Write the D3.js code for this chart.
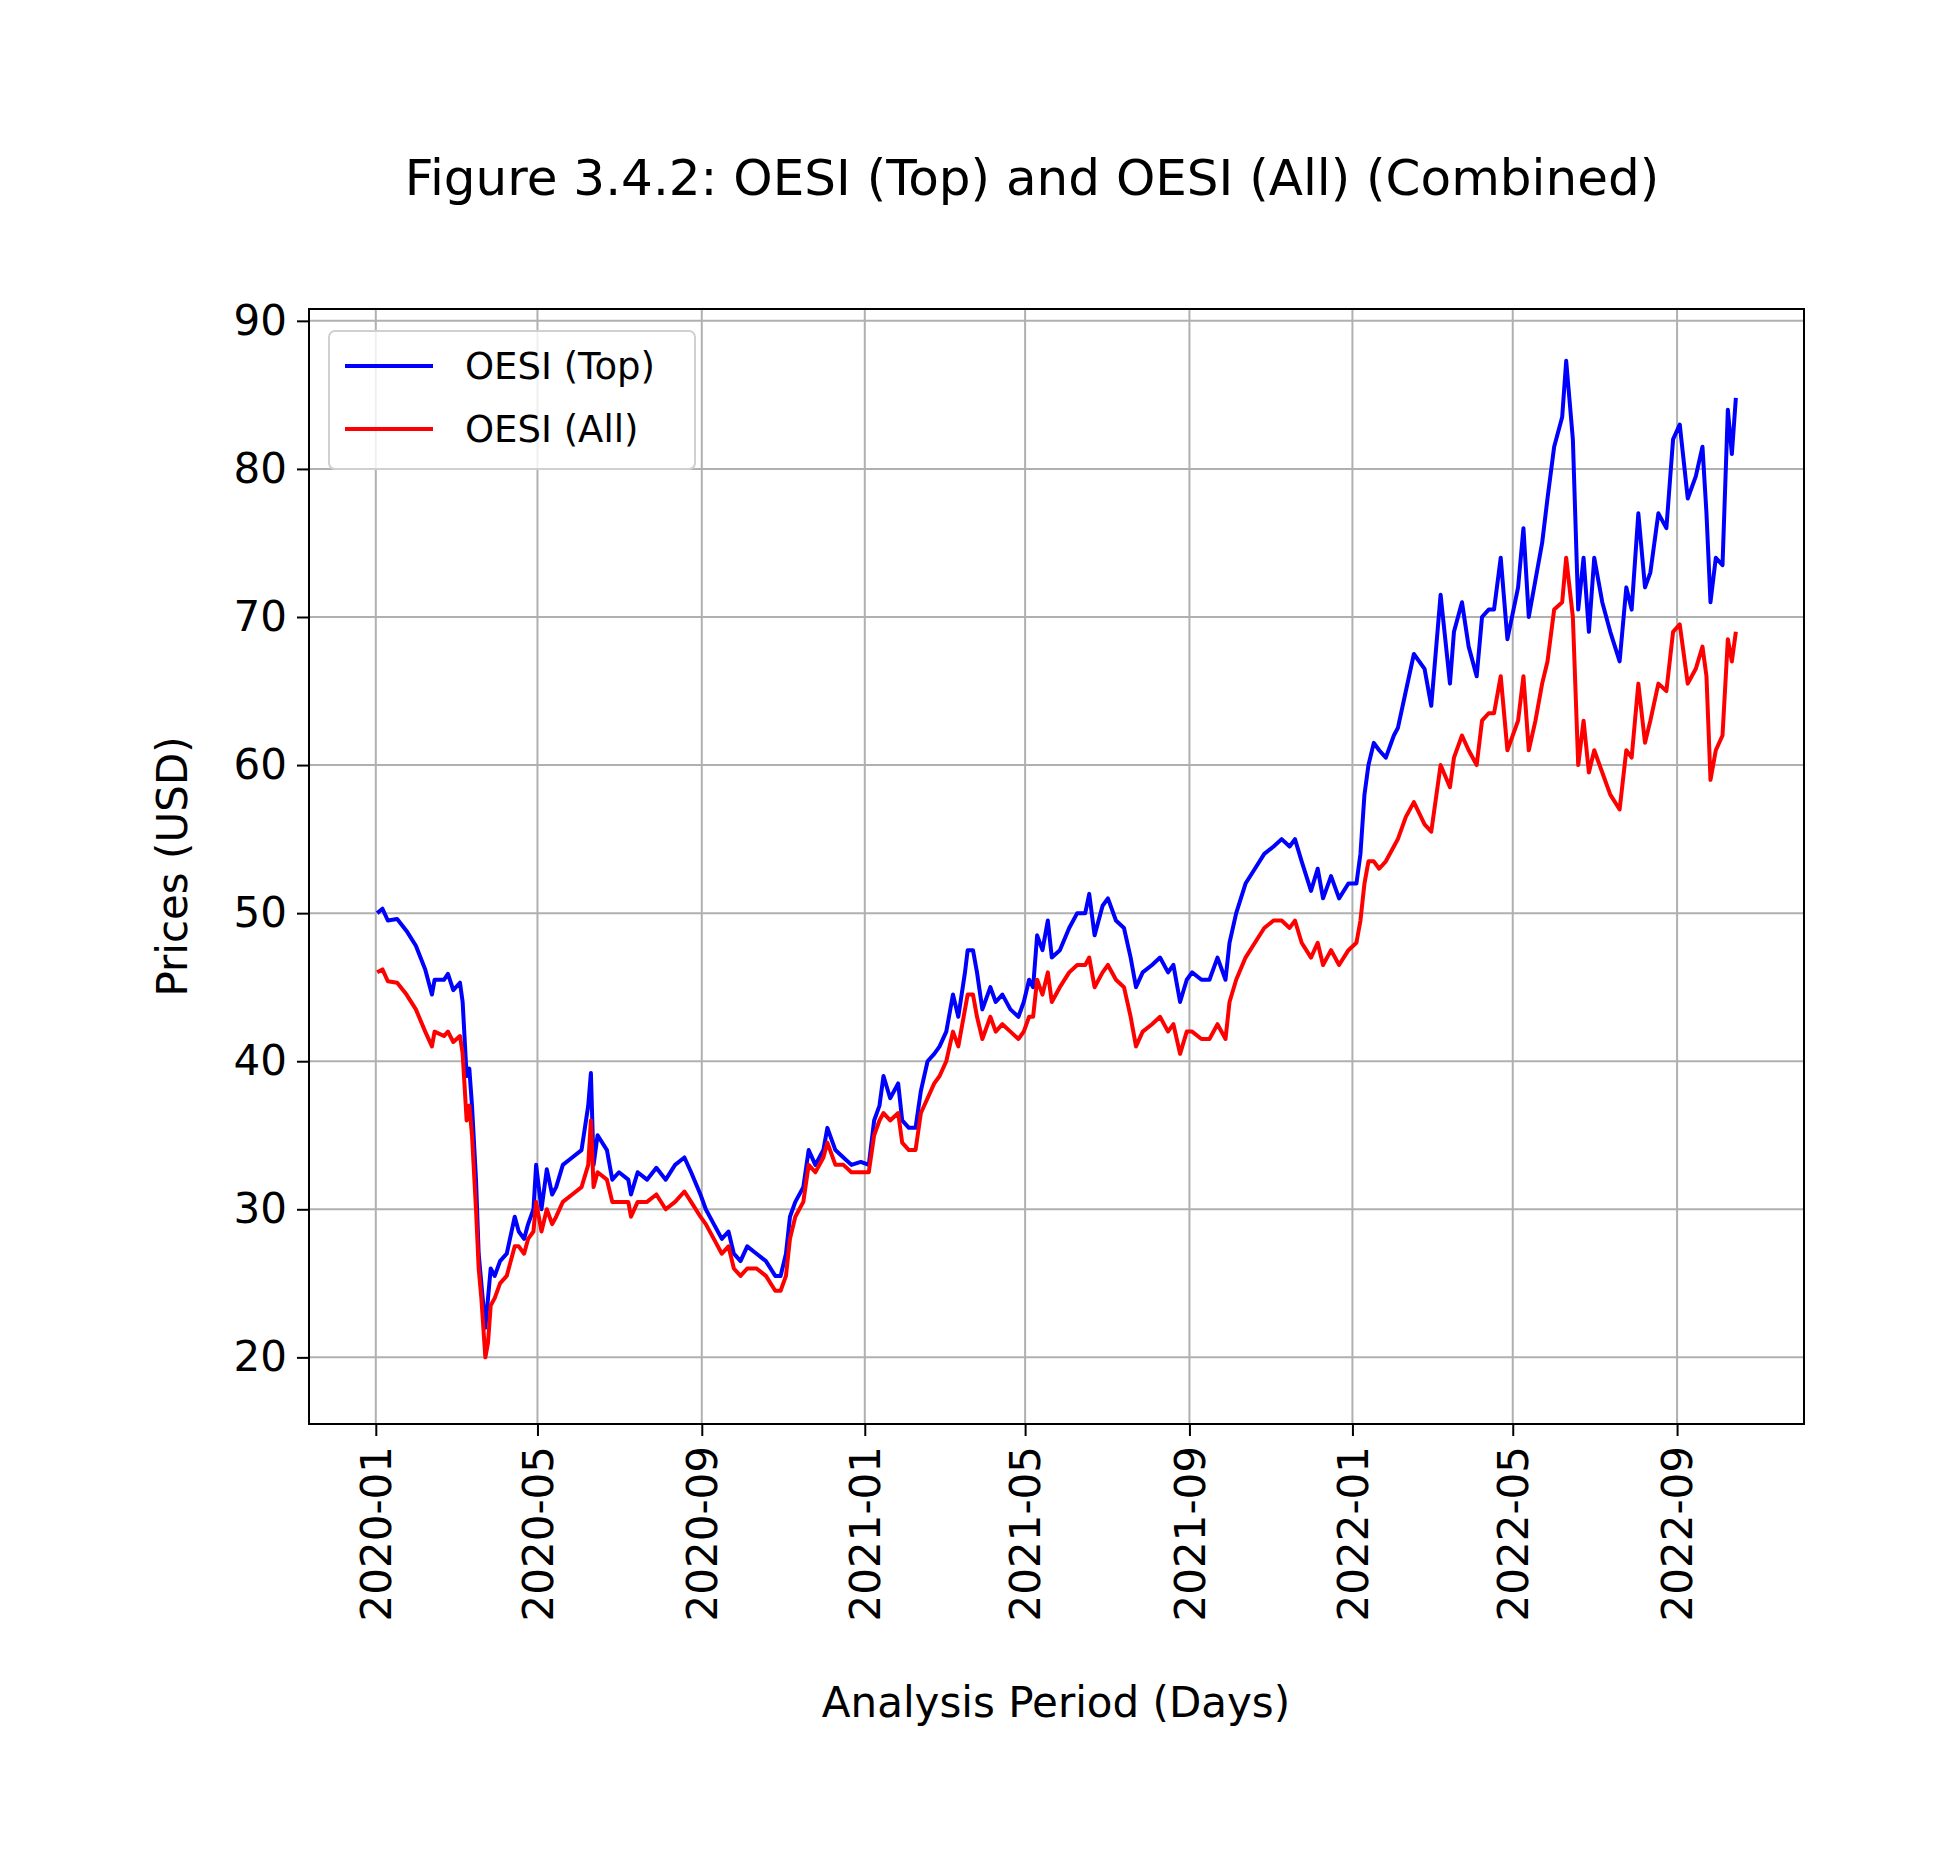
<!DOCTYPE html>
<html><head><meta charset="utf-8">
<script src="https://cdn.jsdelivr.net/npm/d3@7"></script>
<style>body{margin:0;background:#fff}text{font-family:"DejaVu Sans",sans-serif}</style>
</head><body>
<svg id="chart" width="1945" height="1869"></svg>
<script>
// dates, roughly weekly
var dates = ["2020-01-02","2020-01-06","2020-01-10","2020-01-17","2020-01-24","2020-01-31","2020-02-07","2020-02-12","2020-02-14","2020-02-21","2020-02-24","2020-02-28","2020-03-04","2020-03-06","2020-03-09","2020-03-11","2020-03-13","2020-03-16","2020-03-18","2020-03-20","2020-03-23","2020-03-25","2020-03-27","2020-03-30","2020-04-03","2020-04-08","2020-04-14","2020-04-17","2020-04-21","2020-04-24","2020-04-28","2020-04-30","2020-05-04","2020-05-08","2020-05-12","2020-05-15","2020-05-20","2020-05-27","2020-06-03","2020-06-08","2020-06-10","2020-06-12","2020-06-15","2020-06-22","2020-06-26","2020-07-01","2020-07-08","2020-07-10","2020-07-15","2020-07-22","2020-07-29","2020-08-05","2020-08-12","2020-08-19","2020-08-24","2020-08-31","2020-09-04","2020-09-10","2020-09-16","2020-09-21","2020-09-25","2020-09-30","2020-10-05","2020-10-12","2020-10-19","2020-10-26","2020-10-30","2020-11-03","2020-11-06","2020-11-10","2020-11-16","2020-11-20","2020-11-25","2020-12-01","2020-12-04","2020-12-10","2020-12-16","2020-12-22","2020-12-29","2021-01-04","2021-01-08","2021-01-12","2021-01-15","2021-01-20","2021-01-26","2021-01-29","2021-02-03","2021-02-08","2021-02-12","2021-02-17","2021-02-22","2021-02-26","2021-03-03","2021-03-08","2021-03-12","2021-03-17","2021-03-19","2021-03-23","2021-03-26","2021-03-30","2021-04-05","2021-04-09","2021-04-14","2021-04-20","2021-04-26","2021-04-30","2021-05-04","2021-05-07","2021-05-10","2021-05-14","2021-05-18","2021-05-21","2021-05-27","2021-06-03","2021-06-09","2021-06-15","2021-06-18","2021-06-22","2021-06-28","2021-07-02","2021-07-08","2021-07-14","2021-07-19","2021-07-23","2021-07-28","2021-08-04","2021-08-10","2021-08-16","2021-08-20","2021-08-25","2021-08-30","2021-09-03","2021-09-10","2021-09-16","2021-09-22","2021-09-28","2021-10-01","2021-10-06","2021-10-13","2021-10-20","2021-10-27","2021-11-03","2021-11-09","2021-11-15","2021-11-19","2021-11-24","2021-12-01","2021-12-06","2021-12-10","2021-12-16","2021-12-22","2021-12-29","2022-01-04","2022-01-07","2022-01-10","2022-01-13","2022-01-17","2022-01-21","2022-01-26","2022-02-01","2022-02-04","2022-02-10","2022-02-16","2022-02-24","2022-03-01","2022-03-08","2022-03-15","2022-03-18","2022-03-24","2022-03-29","2022-04-04","2022-04-08","2022-04-13","2022-04-17","2022-04-22","2022-04-27","2022-05-05","2022-05-09","2022-05-13","2022-05-18","2022-05-23","2022-05-27","2022-06-01","2022-06-07","2022-06-10","2022-06-15","2022-06-19","2022-06-23","2022-06-27","2022-07-01","2022-07-07","2022-07-13","2022-07-20","2022-07-25","2022-07-29","2022-08-03","2022-08-08","2022-08-12","2022-08-18","2022-08-24","2022-08-29","2022-09-03","2022-09-09","2022-09-15","2022-09-20","2022-09-23","2022-09-26","2022-09-30","2022-10-05","2022-10-09","2022-10-12","2022-10-15"];
var oesiTop = [50,50.3,49.5,49.6,48.8,47.8,46.2,44.5,45.5,45.5,45.9,44.8,45.3,44,39,39.5,37,32,27,25,22,24,26,25.5,26.5,27,29.5,28.5,28,29,30,33,30,32.7,31,31.5,33,33.5,34,37,39.2,33,35,34,32,32.5,32,31,32.5,32,32.8,32,33,33.5,32.5,31,30,29,28,28.5,27,26.5,27.5,27,26.5,25.5,25.5,27,29.5,30.5,31.5,34,33,34,35.5,34,33.5,33,33.2,33,36,37,39,37.5,38.5,36,35.5,35.5,38,40,40.5,41,42,44.5,43,46,47.5,47.5,46,43.5,45,44,44.5,43.5,43,44,45.5,45,48.5,47.5,49.5,47,47.5,49,50,50,51.3,48.5,50.5,51,49.5,49,47,45,46,46.5,47,46,46.5,44,45.5,46,45.5,45.5,47,45.5,48,50,52,53,54,54.5,55,54.5,55,53.5,51.5,53,51,52.5,51,52,52,54,58,60,61.5,61,60.5,62,62.5,65,67.5,66.5,64,71.5,65.5,69,71,68,66,70,70.5,70.5,74,68.5,72,76,70,72.5,75,78,81.5,83.5,87.3,82,70.5,74,69,74,71,69,67,72,70.5,77,72,73,77,76,82,83,78,79.5,81.5,77,71,74,73.5,84,81,84.8];
var oesiAll = [46,46.2,45.4,45.3,44.5,43.5,42,41,42,41.7,42,41.3,41.7,40.5,36,37,35,30,26,24,20,21,23.5,24,25,25.5,27.5,27.5,27,28,28.5,30.5,28.5,30,29,29.5,30.5,31,31.5,33,36,31.5,32.5,32,30.5,30.5,30.5,29.5,30.5,30.5,31,30,30.5,31.2,30.5,29.5,29,28,27,27.5,26,25.5,26,26,25.5,24.5,24.5,25.5,28,29.5,30.5,33,32.5,33.5,34.5,33,33,32.5,32.5,32.5,35,36,36.5,36,36.5,34.5,34,34,36.5,37.5,38.5,39,40,42,41,43.5,44.5,44.5,43,41.5,43,42,42.5,42,41.5,42,43,43,45.5,44.5,46,44,45,46,46.5,46.5,47,45,46,46.5,45.5,45,43,41,42,42.5,43,42,42.5,40.5,42,42,41.5,41.5,42.5,41.5,44,45.5,47,48,49,49.5,49.5,49,49.5,48,47,48,46.5,47.5,46.5,47.5,48,49.5,52,53.5,53.5,53,53.5,54.5,55,56.5,57.5,56,55.5,60,58.5,60.5,62,61,60,63,63.5,63.5,66,61,63,66,61,63,65.5,67,70.5,71,74,70,60,63,59.5,61,59.5,58,57,61,60.5,65.5,61.5,63,65.5,65,69,69.5,65.5,66.5,68,66,59,61,62,68.5,67,69];

var W = 1945, H = 1869;
var m = {left: 309, right: 1804, top: 309, bottom: 1424};
var svg = d3.select("#chart");
var parse = d3.timeParse("%Y-%m-%d");
var xs = dates.map(parse);

var x = d3.scaleTime()
  .domain([parse("2019-11-12"), parse("2022-12-05")])
  .range([m.left, m.right]);
var y = d3.scaleLinear().domain([15.5, 90.8]).range([m.bottom, m.top]);

var xTicks = d3.timeMonth.every(4).range(parse("2020-01-01"), parse("2022-10-01"));
var yTicks = [20, 30, 40, 50, 60, 70, 80, 90];

// grid
svg.append("g").selectAll("line").data(xTicks).join("line")
  .attr("x1", d => x(d)).attr("x2", d => x(d))
  .attr("y1", m.top).attr("y2", m.bottom)
  .attr("stroke", "#b0b0b0").attr("stroke-width", 2);
svg.append("g").selectAll("line").data(yTicks).join("line")
  .attr("y1", d => y(d)).attr("y2", d => y(d))
  .attr("x1", m.left).attr("x2", m.right)
  .attr("stroke", "#b0b0b0").attr("stroke-width", 2);

// lines
var line = vals => d3.line().x((d, i) => x(xs[i])).y(d => y(d))(vals);
svg.append("path").attr("d", line(oesiTop)).attr("fill", "none")
  .attr("stroke", "#0000ff").attr("stroke-width", 4).attr("stroke-linejoin", "round");
svg.append("path").attr("d", line(oesiAll)).attr("fill", "none")
  .attr("stroke", "#ff0000").attr("stroke-width", 4).attr("stroke-linejoin", "round");

// axes
var xAxis = svg.append("g").attr("transform", "translate(0," + m.bottom + ")")
  .call(d3.axisBottom(x).tickValues(xTicks).tickFormat(d3.timeFormat("%Y-%m")).tickSize(12).tickPadding(10));
xAxis.selectAll("text").attr("transform", "rotate(-90)").attr("text-anchor", "end")
  .attr("x", -22).attr("y", 0).attr("dy", "0.35em");
var yAxis = svg.append("g").attr("transform", "translate(" + m.left + ",0)")
  .call(d3.axisLeft(y).tickValues(yTicks).tickSize(12).tickPadding(10));
[xAxis, yAxis].forEach(a => {
  a.select(".domain").remove();
  a.selectAll("line").attr("stroke", "#000").attr("stroke-width", 2);
  a.selectAll("text").attr("font-size", 42).attr("fill", "#000")
    .attr("font-family", "DejaVu Sans");
});
svg.append("rect").attr("x", m.left).attr("y", m.top)
  .attr("width", m.right - m.left).attr("height", m.bottom - m.top)
  .attr("fill", "none").attr("stroke", "#000").attr("stroke-width", 2);

// titles
svg.append("text").attr("x", 1032).attr("y", 195).attr("text-anchor", "middle")
  .attr("font-size", 50).text("Figure 3.4.2: OESI (Top) and OESI (All) (Combined)");
svg.append("text").attr("x", 1056).attr("y", 1717).attr("text-anchor", "middle")
  .attr("font-size", 42).text("Analysis Period (Days)");
svg.append("text").attr("transform", "translate(187," + ((m.top + m.bottom) / 2) + ") rotate(-90)")
  .attr("text-anchor", "middle").attr("font-size", 42).text("Prices (USD)");

// legend
var lg = svg.append("g");
lg.append("rect").attr("x", 329).attr("y", 331).attr("width", 366).attr("height", 138)
  .attr("rx", 6).attr("fill", "#fff").attr("fill-opacity", 0.8)
  .attr("stroke", "#d0d0d0").attr("stroke-width", 2);
[["OESI (Top)", "#0000ff"], ["OESI (All)", "#ff0000"]].forEach((d, i) => {
  var yy = 366 + i * 63;
  lg.append("line").attr("x1", 345).attr("x2", 433).attr("y1", yy).attr("y2", yy)
    .attr("stroke", d[1]).attr("stroke-width", 4);
  lg.append("text").attr("x", 465).attr("y", yy + 13).attr("font-size", 37).text(d[0]);
});
</script>
</body></html>
